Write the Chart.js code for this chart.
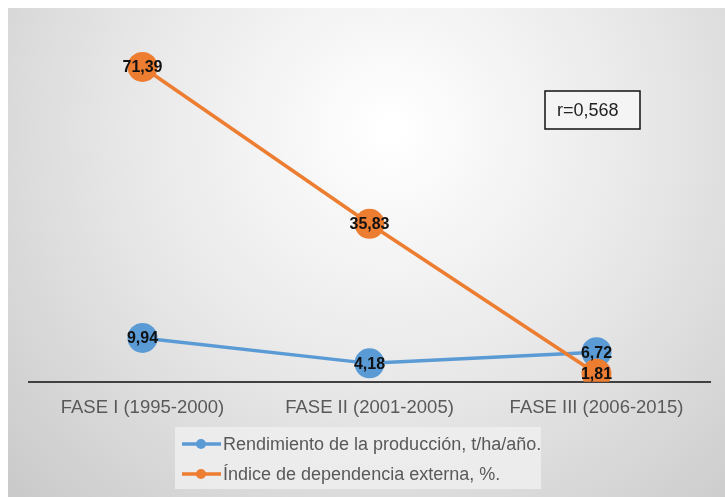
<!DOCTYPE html>
<html>
<head>
<meta charset="utf-8">
<script src="https://cdn.jsdelivr.net/npm/chart.js@4/dist/chart.umd.min.js"></script>
<style>
    html, body { margin: 0; padding: 0; background: #fff; }
    #wrap { width: 725px; height: 497px; position: relative; }
</style>
</head>
<body>
<div id="wrap"><canvas id="myChart"></canvas></div>
<script>
'use strict';

// data
const phases = ['FASE I (1995-2000)', 'FASE II (2001-2005)', 'FASE III (2006-2015)'];
const rendimiento = [9.94, 4.18, 6.72];
const dependencia = [71.39, 35.83, 1.81];
const seriesNames = ['Rendimiento de la producción, t/ha/año.', 'Índice de dependencia externa, %.'];
const correlationText = 'r=0,568';

const BLUE = '#5B9BD5';
const ORANGE = '#ED7D31';
const TEXT = '#595959';

// grey radial background of the plot frame
const backgroundPlugin = {
    id: 'frameBackground',
    beforeDraw(chart) {
        const ctx = chart.ctx;
        const w = chart.width, h = chart.height;
        ctx.save();
        ctx.fillStyle = '#fff';
        ctx.fillRect(0, 0, w, h);
        const g = ctx.createRadialGradient(390, 130, 10, 390, 130, 560);
        g.addColorStop(0, '#ffffff');
        g.addColorStop(0.45, '#e8e8e8');
        g.addColorStop(1, '#c6c6c6');
        ctx.fillStyle = g;
        ctx.fillRect(8, 8, w - 8, h - 8);
        ctx.restore();
    }
};

// value labels on top of the markers
const valueLabels = {
    id: 'valueLabels',
    afterDatasetsDraw(chart) {
        const ctx = chart.ctx;
        ctx.save();
        ctx.font = 'bold 16px Arial, "Liberation Sans", sans-serif';
        ctx.fillStyle = '#111';
        ctx.textAlign = 'center';
        ctx.textBaseline = 'middle';
        chart.data.datasets.forEach((ds, i) => {
            chart.getDatasetMeta(i).data.forEach((pt, j) => {
                const txt = ds.data[j].toFixed(2).replace('.', ',');
                ctx.fillText(txt, pt.x, pt.y + 1);
            });
        });
        ctx.restore();
    }
};

// correlation box + legend drawn on the canvas
const extrasPlugin = {
    id: 'extras',
    afterDraw(chart) {
        const ctx = chart.ctx;
        ctx.save();

        // r box
        ctx.fillStyle = '#f4f4f4';
        ctx.fillRect(545, 91, 95, 38);
        ctx.strokeStyle = '#111';
        ctx.lineWidth = 1.5;
        ctx.strokeRect(545, 91, 95, 38);
        ctx.fillStyle = '#222';
        ctx.font = '18px Arial, "Liberation Sans", sans-serif';
        ctx.textAlign = 'left';
        ctx.textBaseline = 'middle';
        ctx.fillText(correlationText, 557, 111);

        // legend
        ctx.fillStyle = 'rgba(238,238,238,0.85)';
        ctx.fillRect(175, 427, 366, 62);
        const colors = [BLUE, ORANGE];
        const rows = [444, 474];
        ctx.font = '18px Arial, "Liberation Sans", sans-serif';
        seriesNames.forEach((name, i) => {
            const y = rows[i];
            ctx.strokeStyle = colors[i];
            ctx.lineWidth = 3.5;
            ctx.beginPath();
            ctx.moveTo(182, y);
            ctx.lineTo(221, y);
            ctx.stroke();
            ctx.fillStyle = colors[i];
            ctx.beginPath();
            ctx.arc(201, y, 5, 0, Math.PI * 2);
            ctx.fill();
            ctx.fillStyle = TEXT;
            ctx.fillText(name, 223, y + 1);
        });
        ctx.restore();
    }
};

const ctx = document.getElementById('myChart').getContext('2d');
const chart = new Chart(ctx, {
    type: 'line',
    data: {
        labels: phases,
        datasets: [{
            label: seriesNames[0],
            data: rendimiento,
            borderColor: BLUE,
            backgroundColor: BLUE,
            borderWidth: 3.5,
            pointRadius: 15,
            pointHoverRadius: 15,
            pointBorderWidth: 0,
            order: 1,
        }, {
            label: seriesNames[1],
            data: dependencia,
            borderColor: ORANGE,
            backgroundColor: ORANGE,
            borderWidth: 3.5,
            pointRadius: 15,
            pointHoverRadius: 15,
            pointBorderWidth: 0,
            order: 0,
        }]
    },
    options: {
        responsive: true,
        maintainAspectRatio: false,
        animation: false,
        events: [],
        layout: { padding: { left: 29, right: 13, top: 29, bottom: 71 } },
        plugins: {
            legend: { display: false },
            tooltip: { enabled: false },
        },
        scales: {
            x: {
                offset: true,
                grid: { display: false },
                border: { display: true, color: '#404040', width: 2 },
                ticks: {
                    color: TEXT,
                    padding: 7,
                    maxRotation: 0,
                    font: { family: 'Arial, "Liberation Sans", sans-serif', size: 18.5 },
                },
            },
            y: {
                display: false,
                min: 0,
                max: 80,
            }
        },
        elements: { line: { tension: 0 } },
    },
    plugins: [backgroundPlugin, valueLabels, extrasPlugin],
});
</script>
</body>
</html>
